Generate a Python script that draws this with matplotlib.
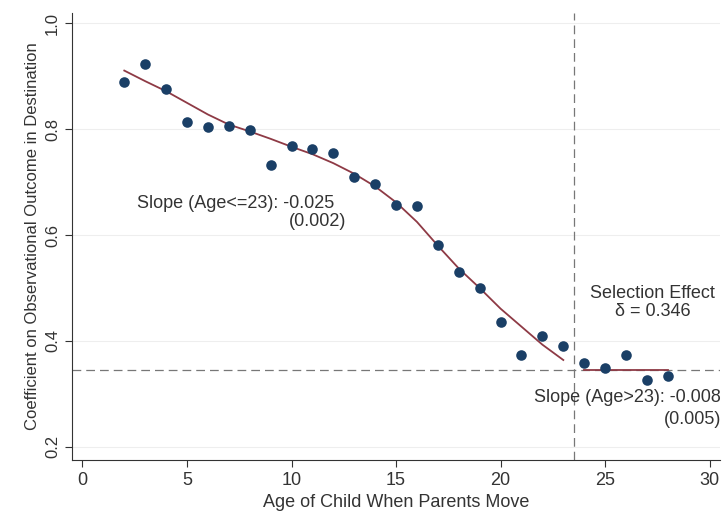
import numpy as np
import matplotlib.pyplot as plt

plt.rcParams['font.family'] = ['Liberation Sans', 'DejaVu Sans']

# binned scatter: age of child at move vs coefficient
ages = [2, 3, 4, 5, 6, 7, 8, 9, 10, 11, 12, 13, 14, 15, 16, 17, 18, 19, 20, 21, 22, 23, 24, 25, 26, 27, 28]
coefs = [0.890, 0.924, 0.877, 0.814, 0.805, 0.807, 0.799, 0.733, 0.769, 0.763, 0.755, 0.710, 0.697,
         0.657, 0.655, 0.581, 0.530, 0.501, 0.435, 0.374, 0.409, 0.390, 0.359, 0.348, 0.374, 0.327, 0.333]

# fitted curve for ages <= 23
fit_ages = [2, 3, 4, 5, 6, 7, 8, 9, 10, 11, 12, 13, 14, 15, 16, 17, 18, 19, 20, 21, 22, 23]
fit_vals = [0.911, 0.891, 0.872, 0.850, 0.828, 0.809, 0.796, 0.782, 0.767, 0.753, 0.736, 0.716,
            0.692, 0.662, 0.625, 0.580, 0.537, 0.500, 0.461, 0.427, 0.393, 0.364]

# fit for ages > 23
post_ages = [24, 28]
post_vals = [0.346, 0.346]

cutoff = 23.5
delta = 0.346

navy = '#1a3f66'
maroon = '#8e3a45'
txt = '#333333'

fig = plt.figure(figsize=(7.23, 5.16), dpi=100)
ax = fig.add_axes([0.0996, 0.1085, 0.8964, 0.8665])

ax.set_xlim(-0.5, 30.5)
ax.set_ylim(0.175, 1.02)

for yv in [0.2, 0.4, 0.6, 0.8, 1.0]:
    ax.axhline(yv, color='#eeeeee', lw=0.8, zorder=0)

ax.axvline(cutoff, color='#777777', lw=0.9, ls=(0, (7, 4)), zorder=1)
ax.axhline(delta, color='#777777', lw=0.9, ls=(0, (7, 4)), zorder=1)

ax.plot(fit_ages, fit_vals, color=maroon, lw=1.3, zorder=2)
ax.plot(post_ages, post_vals, color=maroon, lw=1.3, zorder=2)
ax.scatter(ages, coefs, s=58, color=navy, zorder=3, linewidths=0)

fs = 13
ax.text(2.59, 0.659, 'Slope (Age<=23): -0.025', fontsize=fs, color=txt, va='center')
ax.text(9.87, 0.626, '(0.002)', fontsize=fs, color=txt, va='center')
ax.text(27.26, 0.489, 'Selection Effect', fontsize=fs, color=txt, ha='center', va='center')
ax.text(27.26, 0.455, '\u03b4 = 0.346', fontsize=fs, color=txt, ha='center', va='center')
ax.text(30.55, 0.293, 'Slope (Age>23): -0.008', fontsize=fs, color=txt, ha='right', va='center')
ax.text(30.55, 0.251, '(0.005)', fontsize=fs, color=txt, ha='right', va='center')

ax.set_xticks([0, 5, 10, 15, 20, 25, 30])
ax.set_yticks([0.2, 0.4, 0.6, 0.8, 1.0])
ax.set_yticklabels(['0.2', '0.4', '0.6', '0.8', '1.0'], rotation=90, va='center')
ax.tick_params(axis='x', labelsize=13)
ax.tick_params(axis='y', labelsize=12)
ax.tick_params(colors=txt, length=5, width=0.8)

ax.spines['top'].set_visible(False)
ax.spines['right'].set_visible(False)
for s in ['left', 'bottom']:
    ax.spines[s].set_color(txt)
    ax.spines[s].set_linewidth(0.8)

ax.set_xlabel('Age of Child When Parents Move', fontsize=13, color=txt)
ax.set_ylabel('Coefficient on Observational Outcome in Destination', fontsize=12, color=txt)

fig.savefig('out.png', dpi=100)
